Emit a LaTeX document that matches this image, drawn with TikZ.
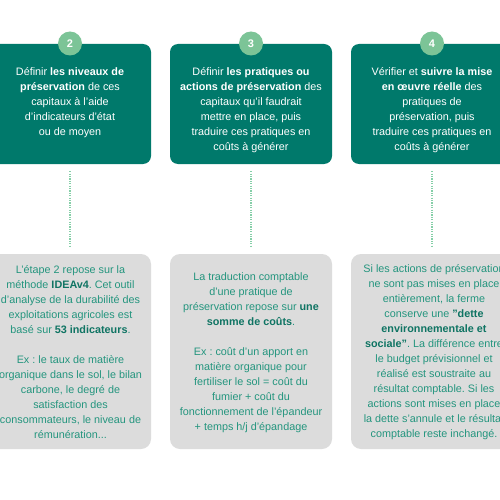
\documentclass[tikz,border=0pt]{standalone}
\usepackage{fontspec}
\setmainfont{Liberation Sans}
\frenchspacing
\definecolor{teal1}{HTML}{00796B}
\definecolor{circ}{HTML}{7CC497}
\definecolor{grayb}{HTML}{DCDCDC}
\definecolor{gtext}{HTML}{24957E}
\definecolor{gbold}{HTML}{0F7463}
\definecolor{dotc}{HTML}{86CFA8}
\tikzset{
  greenbox/.style={fill=teal1, rounded corners=8pt, minimum width=162pt, minimum height=120pt, inner sep=0pt},
  graybox/.style={fill=grayb, rounded corners=10pt, minimum width=162pt, minimum height=195pt, inner sep=0pt},
  numcirc/.style={circle, fill=circ, minimum size=24pt, inner sep=0pt, text=white, font=\fontsize{11}{13}\selectfont\bfseries},
  gtxt/.style={anchor=north, align=center, inner sep=0pt, text=white, font=\fontsize{10.8}{15}\selectfont},
  btxt/.style={anchor=north, align=center, inner sep=0pt, text=gtext, font=\fontsize{10.8}{15}\selectfont},
  dotline/.style={draw=dotc, line width=1.8pt, dash pattern=on 1.2pt off 1.2pt}
}
\newcommand{\gb}[1]{\textcolor{gbold}{\bfseries #1}}
\newcommand{\dq}{\symbol{34}}
\begin{document}
\begin{tikzpicture}[x=1pt,y=-1pt]
\useasboundingbox (0,0) rectangle (500,500);
\clip (0,0) rectangle (500,500);
\fill[white] (0,0) rectangle (500,500);
% green boxes
\node[greenbox] (g1) at (70,104) {};
\node[greenbox] (g2) at (251,104) {};
\node[greenbox] (g3) at (432,104) {};
\node[numcirc] (c1) at (70,43.5) {2};
\node[numcirc] (c2) at (251,43.5) {3};
\node[numcirc] (c3) at (432,43.5) {4};
\node[gtxt] (t1) at (70,67.5) {Définir \textbf{les niveaux de}\\\textbf{préservation} de ces\\capitaux à l’aide\\d’indicateurs d’état\\ou de moyen};
\node[gtxt] (t2) at (251,67.5) {Définir \textbf{les pratiques ou}\\\textbf{actions de préservation} des\\capitaux qu’il faudrait\\mettre en place, puis\\traduire ces pratiques en\\coûts à générer};
\node[gtxt] (t3) at (432,67.5) {Vérifier et \textbf{suivre la mise}\\\textbf{en œuvre réelle} des\\pratiques de\\préservation, puis\\traduire ces pratiques en\\coûts à générer};
% gray boxes
\node[graybox] (b1) at (70,351.5) {};
\node[graybox] (b2) at (251,351.5) {};
\node[graybox] (b3) at (432,351.5) {};
\node[btxt] (u1) at (70.5,265.5) {L’étape 2 repose sur la\\méthode \gb{IDEAv4}. Cet outil\\d'analyse de la durabilité des\\exploitations agricoles est\\basé sur \gb{53 indicateurs}.\\[15pt]Ex : le taux de matière\\organique dans le sol, le bilan\\carbone, le degré de\\satisfaction des\\consommateurs, le niveau de\\rémunération...};
\node[btxt] (u2) at (251,272) {La traduction comptable\\d’une pratique de\\préservation repose sur \gb{une}\\\gb{somme de coûts}.\\[15.5pt]Ex : coût d’un apport en\\matière organique pour\\fertiliser le sol = coût du\\fumier + coût du\\fonctionnement de l’épandeur\\+ temps h/j d’épandage};
\node[btxt] (u3) at (434,264) {Si les actions de préservation\\ne sont pas mises en place\\entièrement, la ferme\\conserve une \gb{\dq dette}\\\gb{environnementale et}\\\gb{sociale\dq}. La différence entre\\le budget prévisionnel et\\réalisé est soustraite au\\résultat comptable. Si les\\actions sont mises en place\\la dette s’annule et le résultat\\comptable reste inchangé.};
% dotted connectors
\draw[dotline, shorten <=7pt, shorten >=6pt] (g1.south) -- (b1.north);
\draw[dotline, shorten <=7pt, shorten >=6pt] (g2.south) -- (b2.north);
\draw[dotline, shorten <=7pt, shorten >=6pt] (g3.south) -- (b3.north);
\end{tikzpicture}
\end{document}
